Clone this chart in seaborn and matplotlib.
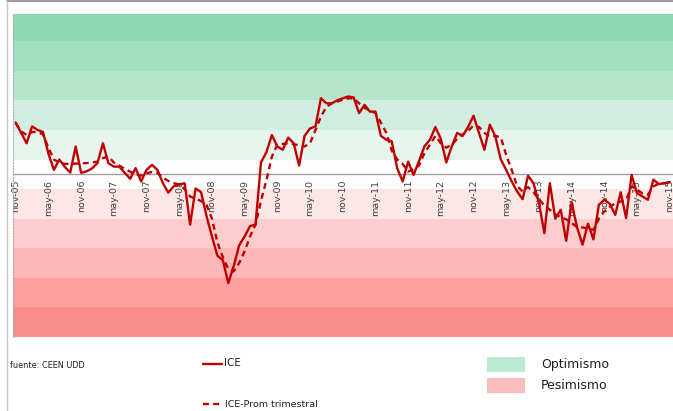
import numpy as np
import pandas as pd
import matplotlib
matplotlib.use("Agg")
import matplotlib.pyplot as plt
from matplotlib.lines import Line2D
from matplotlib.patches import Rectangle
import seaborn as sns

sns.set_style("white")
plt.rcParams["font.family"] = ["DejaVu Sans"]

# ICE mensual, nov-05 .. nov-15
ice = [17.5, 14, 10.5, 16.2, 15, 14.3, 7, 1.5, 5, 2.5,
       0.6, 9.4, 0.5, 1, 2, 3.8, 10.5, 3.8, 2.6, 2.6,
       0.5, -1.5, 2.1, -2.4, 1.5, 3.2, 1.5, -3, -6.2, -4,
       -3.5, -3, -17, -4.8, -6, -14, -21, -27.5, -29, -36.8,
       -31, -24, -21, -17.5, -17, 4, 7.5, 13.3, 9.4, 8.3,
       12.4, 10.5, 3, 13, 15.5, 16.2, 25.7, 24, 24, 25,
       25.7, 26.3, 26, 20.7, 23.5, 21.2, 21.2, 13, 11.7, 11.1,
       2, -2.4, 4.3, -0.2, 4.5, 9.5, 11.7, 16, 12, 4,
       9.4, 14, 13, 16, 19.8, 14, 8.3, 16.8, 12.8, 5,
       1.5, -2.4, -5.8, -8.4, -0.5, -3, -9.7, -19.9, -3, -15,
       -12, -22.5, -9.5, -18, -23.8, -16.7, -22, -10.3, -8.6, -10,
       -13.7, -6.1, -14.8, -0.2, -6.4, -7.5, -8.6, -1.8, -3.3, -3.0,
       -2.6]

# ICE promedio trimestral
ice_prom = [17.3, 14.5, 13.3, 14.3, 14.3, 13.5, 9, 5, 4, 3.5,
            3.6, 3.6, 3.7, 3.8, 4, 4.3, 5.5, 6, 4, 3,
            1.8, 0.9, 0, -0.4, 0.3, 0.8, 0.5, -1.2, -2.2, -3,
            -3.5, -5, -7.5, -8.3, -9, -10.3, -15, -23, -28, -32,
            -32.8, -30, -26, -21, -17, -9, -2, 6, 10, 10.3,
            10.5, 10.2, 9.8, 9.4, 10.5, 15, 19.5, 22.8, 24, 24.6,
            25.3, 25.7, 25.7, 24, 22.5, 21.5, 20.7, 17.5, 14, 8,
            5, 3.5, 0.9, 1.8, 3, 7.2, 10, 13, 10.5, 9,
            10, 12, 13.5, 14.7, 16.5, 16, 14, 12.8, 13, 12.5,
            6.5, 1.5, -4, -5.8, -4.3, -6, -8.5, -10.5, -12, -13.5,
            -14.5, -15.2, -16.5, -17.8, -18, -18.2, -18.8, -15, -12.5, -11,
            -9.8, -9.2, -8.6, -4.1, -5.2, -6.5, -6.9, -4.1, -3.2, -3,
            -2.8]

etiquetas = ["nov-05", "may-06", "nov-06", "may-07", "nov-07", "may-08",
             "nov-08", "may-09", "nov-09", "may-10", "nov-10", "may-11",
             "nov-11", "may-12", "nov-12", "may-13", "nov-13", "may-14",
             "nov-14", "may-15", "nov-15"]

# franjas de optimismo / pesimismo
bordes = [-55, -45, -35, -25, -15, -5, 5, 15, 25, 35, 45, 55]
colores = ["#fa8c8c", "#fb9f9f", "#fcb7b7", "#fdcccc", "#fde6e6", "#fefefe",
           "#e6f5ed", "#d0eedf", "#b5e6cc", "#a0e0bf", "#8ed9b0"]

df = pd.DataFrame({"mes": np.arange(len(ice)), "ICE": ice, "prom": ice_prom})

W, H = 673, 411
fig = plt.figure(figsize=(W / 100, H / 100), dpi=100)
ax = fig.add_axes([13 / W, 1 - 337 / H, (673 - 13) / W, (337 - 14) / H])

for lo, hi, c in zip(bordes[:-1], bordes[1:], colores):
    ax.axhspan(lo, hi, color=c, lw=0, zorder=0)

sns.lineplot(data=df, x="mes", y="ICE", color="#c00000", lw=1.7, ax=ax, zorder=3)
sns.lineplot(data=df, x="mes", y="prom", color="#c00000", lw=1.7, ax=ax,
             zorder=3, linestyle=(0, (2.5, 1.8)))

# eje x cruzando en cero (antes de fijar ticks, porque resetea los ticks)
ax.spines["bottom"].set_position(("data", 0))
ax.spines["bottom"].set_color("#a0a0a0")
ax.spines["bottom"].set_linewidth(1)
ax.spines["bottom"].set_zorder(2)
ax.spines["left"].set_color("#b0b0b0")
ax.spines["left"].set_linestyle(":")
ax.spines["left"].set_linewidth(0.8)
ax.spines["top"].set_visible(False)
ax.spines["right"].set_visible(False)

ax.set_xlim(-0.5, 120.6)
ax.set_ylim(-55, 54.2)
ax.set_xlabel("")
ax.set_ylabel("")
ax.set_yticks([])
ax.set_xticks(np.arange(0, 121, 6))
ax.set_xticklabels(etiquetas, rotation=90, fontsize=6.8, color="#404040")
ax.tick_params(axis="x", length=0, pad=4)

# marco del grafico
fig.add_artist(Line2D([6.5 / W, 1], [1 - 0.8 / H, 1 - 0.8 / H], color="#8c8c8c", lw=1.2))
fig.add_artist(Line2D([6.5 / W, 6.5 / W], [0, 1 - 0.8 / H], color="#c8c8c8", lw=1))

# pie / leyenda
fig.text(10 / W, 1 - 365 / H, "fuente: CEEN UDD", fontsize=5.9, va="center", color="#202020")
fig.add_artist(Line2D([203 / W, 222 / W], [1 - 364 / H] * 2, color="#c00000", lw=1.7))
fig.text(224 / W, 1 - 363 / H, "ICE", fontsize=7.5, va="center", color="#202020")
fig.add_artist(Line2D([203 / W, 222 / W], [1 - 404 / H] * 2, color="#c00000", lw=1.7,
                      linestyle=(0, (2.5, 1.8))))
fig.text(225 / W, 1 - 404 / H, "ICE-Prom trimestral", fontsize=6.8, va="center", color="#202020")
fig.add_artist(Rectangle((487 / W, 1 - 372 / H), 38 / W, 15 / H, color="#bde8d2", lw=0))
fig.add_artist(Rectangle((487 / W, 1 - 393 / H), 38 / W, 15 / H, color="#fbbcbc", lw=0))
fig.text(541 / W, 1 - 364 / H, "Optimismo", fontsize=9, va="center", color="#202020")
fig.text(541 / W, 1 - 385 / H, "Pesimismo", fontsize=9, va="center", color="#202020")

fig.savefig("out.png", dpi=100)
